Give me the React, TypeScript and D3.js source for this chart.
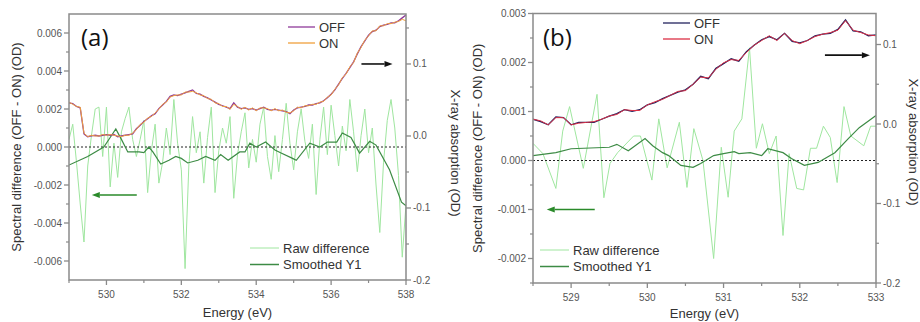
import React from 'react';
import * as d3 from 'd3';

// ---- panel (a) data ----
const energyStartA = 529.0;
const energyStepA = 0.1;
const offA = [0.046, 0.045, 0.041, 0.039, 0.003, -0.001, 0.0, 0.001, 0.0, 0.001,
  0.002, 0.001, 0.002, -0.001, 0.0, 0.001, 0.002, 0.003, 0.01, 0.015,
  0.02, 0.024, 0.028, 0.031, 0.038, 0.043, 0.048, 0.055, 0.057, 0.056,
  0.058, 0.06, 0.062, 0.064, 0.059, 0.058, 0.055, 0.053, 0.05, 0.047,
  0.044, 0.042, 0.04, 0.038, 0.046, 0.04, 0.038, 0.039, 0.037, 0.038,
  0.036, 0.038, 0.04, 0.037, 0.036, 0.037, 0.036, 0.035, 0.034, 0.031,
  0.036, 0.039, 0.04, 0.041, 0.043, 0.043, 0.045, 0.046, 0.049, 0.053,
  0.058, 0.064, 0.072, 0.08, 0.087, 0.095, 0.103, 0.114, 0.124, 0.132,
  0.14, 0.145, 0.147, 0.152, 0.154, 0.155, 0.157, 0.157, 0.16, 0.164, 0.168];
const onA = [0.047, 0.044, 0.041, 0.040, 0.004, -0.001, 0.001, 0.0, 0.0, 0.002,
  0.001, 0.002, 0.001, 0.0, -0.001, 0.001, 0.001, 0.004, 0.009, 0.016,
  0.019, 0.025, 0.027, 0.032, 0.037, 0.044, 0.047, 0.054, 0.056, 0.057,
  0.057, 0.061, 0.061, 0.062, 0.06, 0.057, 0.056, 0.052, 0.051, 0.046,
  0.045, 0.041, 0.041, 0.037, 0.044, 0.041, 0.037, 0.04, 0.036, 0.039,
  0.035, 0.039, 0.039, 0.038, 0.035, 0.038, 0.035, 0.036, 0.033, 0.032,
  0.035, 0.04, 0.039, 0.042, 0.042, 0.044, 0.044, 0.047, 0.048, 0.054,
  0.057, 0.065, 0.071, 0.081, 0.086, 0.096, 0.102, 0.115, 0.123, 0.133,
  0.139, 0.146, 0.146, 0.153, 0.153, 0.156, 0.156, 0.158, 0.159, 0.162, 0.160];
const rawA = [0.0004, 0.0012, -0.0008, -0.003, -0.005, -0.001, 0.0006, 0.002, 0.0021, -0.0005,
  0.0021, -0.0021, 0.0002, -0.0016, 0.0008, 0.0015, 0.0021, 0.0004, -0.0005, 0.0004,
  0.0014, -0.0024, -0.0002, 0.0012, -0.0019, -0.0008, 0.001, -0.0004, 0.0025, 0.0002,
  -0.0012, -0.0064, -0.001, 0.0016, -0.0003, 0.0008, -0.0019, 0.0005, 0.0021, -0.0024,
  -0.0002, 0.001, 0.0002, 0.0016, -0.0027, -0.0004, 0.0008, 0.0018, -0.0011, 0.0004,
  -0.0008, 0.0012, 0.0021, -0.0005, -0.0017, 0.0006, -0.0013, 0.0004, 0.0023, 0.0002,
  -0.0012, 0.0008, 0.002, 0.0003, -0.0006, 0.0012, -0.0025, 0.0004, 0.0021, -0.0004,
  0.0022, 0.0006, -0.001, 0.0011, -0.0002, 0.0025, 0.0008, -0.0013, 0.0006, 0.002,
  -0.0003, 0.001, -0.002, -0.0045, -0.0008, 0.0014, 0.0025, 0.001, -0.0015, -0.0058, -0.003];
const smoothEnergyA = [529.0, 529.5, 529.93, 530.1, 530.25, 530.4, 530.57, 530.87, 531.0, 531.13,
  531.24, 531.45, 531.67, 531.85, 532.0, 532.17, 532.44, 532.65, 532.9, 533.05,
  533.25, 533.56, 533.7, 533.83, 534.0, 534.25, 534.5, 534.65, 534.97, 535.07,
  535.43, 535.7, 535.9, 536.15, 536.3, 536.53, 536.76, 537.03, 537.2, 537.56, 537.88, 538.0];
const smoothA = [-0.00095, -0.0005, 0.0, 0.0005, 0.00095, 0.0004, -0.00026, -0.00026, -0.0003, 0.0,
  -0.00026, -0.0009, -0.0007, -0.0005, -0.0006, -0.00084, -0.0007, -0.0005, -0.0007, -0.0004,
  -0.0007, -0.00026, -0.00026, 0.0002, 0.0, 0.00026, -0.00016, -0.0003, -0.0006, -0.0007,
  0.0002, 0.0, 0.00026, 0.00026, 0.00074, 0.0005, -0.00032, 0.0003, 0.0001, -0.0012, -0.0029, -0.0031];

// ---- panel (b) data ----
const energyStartB = 528.5;
const energyStepB = 0.1;
const offB = [0.006, 0.003, -0.001, 0.009, 0.008, -0.001, 0.002, 0.002, 0.002, 0.006,
  0.01, 0.013, 0.018, 0.016, 0.018, 0.024, 0.027, 0.032, 0.036, 0.04,
  0.043, 0.05, 0.06, 0.057, 0.07, 0.076, 0.082, 0.079, 0.091, 0.099,
  0.106, 0.11, 0.106, 0.114, 0.104, 0.102, 0.105, 0.111, 0.113, 0.114,
  0.119, 0.131, 0.117, 0.116, 0.111, 0.112];
const onB = [0.006, 0.004, -0.001, 0.008, 0.008, -0.001, 0.001, 0.002, 0.003, 0.006,
  0.01, 0.012, 0.018, 0.017, 0.017, 0.024, 0.028, 0.031, 0.036, 0.041,
  0.042, 0.05, 0.059, 0.058, 0.069, 0.077, 0.081, 0.08, 0.09, 0.099,
  0.105, 0.111, 0.105, 0.114, 0.105, 0.101, 0.105, 0.11, 0.113, 0.115,
  0.118, 0.13, 0.118, 0.115, 0.112, 0.111];
const rawEnergyB = [528.5, 528.63, 528.8, 528.89, 528.98, 529.16, 529.34, 529.43, 529.51, 529.61,
  529.82, 529.91, 530.06, 530.15, 530.26, 530.42, 530.52, 530.61, 530.73, 530.87,
  530.97, 531.06, 531.14, 531.24, 531.34, 531.43, 531.51, 531.6, 531.69, 531.78,
  531.86, 531.96, 532.05, 532.14, 532.22, 532.31, 532.4, 532.49, 532.58, 532.67,
  532.84, 532.93, 533.0];
const rawB = [0.00035, 0.00014, -0.00057, 0.0006, 0.0011, -0.00016, 0.00135, -0.00076, -0.00006, 0.00016,
  0.0005, 0.0005, -0.0004, 0.00085, -0.00015, 0.00078, -0.00055, 0.00065, 0.0, -0.002,
  0.00027, -0.00075, 0.0006, 0.00085, 0.0023, 0.00025, 0.00075, 0.00014, 0.0005, -0.00153,
  0.00014, -0.00057, -0.0006, 0.00025, 0.00025, 0.0007, 0.00047, -0.00045, 0.0011, 0.0005,
  0.0003, 0.0007, 0.0007];
const smoothEnergyB = [528.5, 528.8, 529.0, 529.5, 529.6, 529.75, 529.97, 530.07, 530.2, 530.28,
  530.44, 530.6, 530.7, 530.87, 531.0, 531.14, 531.2, 531.35, 531.5, 531.58,
  531.78, 531.89, 532.06, 532.24, 532.46, 532.64, 532.78, 533.0];
const smoothB = [0.0001, 0.00016, 0.00024, 0.00027, 0.00033, 0.0002, 0.00045, 0.0003, 0.00016, 0.0001,
  -0.0001, -0.00014, -0.00006, 0.0001, 0.00014, 0.00018, 0.00014, 0.00016, 0.0001, 0.00024,
  0.00016, 0.00004, -0.0001, -0.00004, 0.00016, 0.00045, 0.00067, 0.00092];

// ---- ticks ----
const xTicksA = [530, 532, 534, 536, 538];
const xMinorA = [529, 531, 533, 535, 537];
const leftTicksA = [-0.006, -0.004, -0.002, 0, 0.002, 0.004, 0.006];
const leftMinorA = [-0.005, -0.003, -0.001, 0.001, 0.003, 0.005];
const rightTicksA = [-0.2, -0.1, 0, 0.1];
const rightMinorA = [-0.15, -0.05, 0.05, 0.15];

const xTicksB = [529, 530, 531, 532, 533];
const xMinorB = [528.5, 529.5, 530.5, 531.5, 532.5];
const leftTicksB = [-0.002, -0.001, 0, 0.001, 0.002, 0.003];
const leftMinorB = [-0.0025, -0.0015, -0.0005, 0.0005, 0.0015, 0.0025];
const rightTicksB = [-0.2, -0.1, 0, 0.1];
const rightMinorB = [-0.15, -0.05, 0.05];

const FONT = 'Liberation Sans, Arial, sans-serif';
const AXIS = '#8a8a8a';
const TICKTXT = '#555';
const TXT = '#333';
const RAW = '#9fe69f';
const SMOOTH = '#3d8b45';
const GREEN_ARROW = '#2a8a2a';

const fmt = (p) => (v) => d3.format(p)(v).replace('\u2212', '-');

function Arrow({ x1, x2, y, color }) {
  const dir = x2 > x1 ? 1 : -1;
  const h = 8;
  return (
    <g>
      <line x1={x1} x2={x2 - dir * h} y1={y} y2={y} stroke={color} strokeWidth={1.6} />
      <path d={`M${x2},${y} L${x2 - dir * h},${y - 3} L${x2 - dir * h},${y + 3} Z`} fill={color} />
    </g>
  );
}

function Panel(p) {
  const x = d3.scaleLinear().domain(p.xDomain).range([p.left, p.right]);
  const yL = d3.scaleLinear().domain(p.leftDomain).range([p.bottom, p.top]);
  const yR = d3.scaleLinear().domain(p.rightDomain).range([p.bottom, p.top]);

  const absLine = d3.line().x((d) => x(d[0])).y((d) => yR(d[1]));
  const diffLine = d3.line().x((d) => x(d[0])).y((d) => yL(d[1]));

  const offPts = p.off.map((v, i) => [p.eStart + i * p.eStep, v]);
  const onPts = p.on.map((v, i) => [p.eStart + i * p.eStep, v]);
  const rawPts = p.raw.map((v, i) => [p.rawE[i], v]);
  const smPts = p.smooth.map((v, i) => [p.smoothE[i], v]);

  const midY = (p.top + p.bottom) / 2;
  const lx = p.legendLow;
  const hx = p.legendHigh;

  return (
    <g fontFamily={FONT}>
      <defs>
        <clipPath id={`clip-${p.id}`}>
          <rect x={p.left} y={p.top} width={p.right - p.left} height={p.bottom - p.top} />
        </clipPath>
      </defs>

      <g clipPath={`url(#clip-${p.id})`}>
        <path d={diffLine(rawPts)} fill="none" stroke={RAW} strokeWidth={1} />
        <line x1={p.left} x2={p.right} y1={yL(0)} y2={yL(0)} stroke="#222" strokeWidth={1} strokeDasharray="2,2" />
        <path d={diffLine(smPts)} fill="none" stroke={SMOOTH} strokeWidth={1.2} />
        <path d={absLine(offPts)} fill="none" stroke={p.offColor} strokeWidth={1.3} />
        <path d={absLine(onPts)} fill="none" stroke={p.onColor} strokeWidth={1} />
      </g>

      {/* frame */}
      <rect x={p.left} y={p.top} width={p.right - p.left} height={p.bottom - p.top} fill="none" stroke={AXIS} strokeWidth={1.5} />

      {/* bottom axis */}
      {p.xTicks.map((t) => (
        <g key={`xt${t}`}>
          <line x1={x(t)} x2={x(t)} y1={p.bottom} y2={p.bottom + 5} stroke={AXIS} strokeWidth={1.3} />
          <text x={x(t)} y={p.bottom + 18} textAnchor="middle" fontSize={10} fill={TICKTXT}>{t}</text>
        </g>
      ))}
      {p.xMinor.map((t) => (
        <line key={`xm${t}`} x1={x(t)} x2={x(t)} y1={p.bottom} y2={p.bottom + 3} stroke={AXIS} strokeWidth={1.2} />
      ))}

      {/* left axis */}
      {p.leftTicks.map((t) => (
        <g key={`lt${t}`}>
          <line x1={p.left - 5} x2={p.left} y1={yL(t)} y2={yL(t)} stroke={AXIS} strokeWidth={1.3} />
          <text x={p.left - 7} y={yL(t) + 3.5} textAnchor="end" fontSize={10} fill={TICKTXT}>{fmt('.3f')(t)}</text>
        </g>
      ))}
      {p.leftMinor.map((t) => (
        <line key={`lm${t}`} x1={p.left - 3} x2={p.left} y1={yL(t)} y2={yL(t)} stroke={AXIS} strokeWidth={1.2} />
      ))}

      {/* right axis */}
      {p.rightTicks.map((t) => (
        <g key={`rt${t}`}>
          <line x1={p.right} x2={p.right + 5} y1={yR(t)} y2={yR(t)} stroke={AXIS} strokeWidth={1.3} />
          <text x={p.right + 7} y={yR(t) + 3.5} textAnchor="start" fontSize={10} fill={TICKTXT}>{fmt('.1f')(t)}</text>
        </g>
      ))}
      {p.rightMinor.map((t) => (
        <line key={`rm${t}`} x1={p.right} x2={p.right + 3} y1={yR(t)} y2={yR(t)} stroke={AXIS} strokeWidth={1.2} />
      ))}

      {/* axis titles */}
      <text x={(p.left + p.right) / 2} y={p.xTitleY} textAnchor="middle" fontSize={13} fill={TXT}>Energy (eV)</text>
      <text transform={`translate(${p.leftTitleX},${midY}) rotate(-90)`} textAnchor="middle" fontSize={13} fill={TXT}>
        Spectral difference (OFF - ON) (OD)
      </text>
      <text transform={`translate(${p.rightTitleX},${p.rightTitleY}) rotate(90)`} textAnchor="middle" fontSize={13} fill={TXT}>
        X-ray absorption (OD)
      </text>

      {/* panel tag */}
      <text x={p.tagX} y={46} fontSize={24} fill="#111" fontFamily="Open Sans, Liberation Sans, sans-serif">{p.tag}</text>

      {/* top legend */}
      <line x1={hx} x2={hx + 27} y1={p.legendHighY} y2={p.legendHighY} stroke={p.offColor} strokeWidth={1.3} />
      <text x={hx + 31} y={p.legendHighY + 4.5} fontSize={13} fill={TXT}>OFF</text>
      <line x1={hx} x2={hx + 27} y1={p.legendHighY + 16} y2={p.legendHighY + 16} stroke={p.onColor} strokeWidth={1.3} />
      <text x={hx + 31} y={p.legendHighY + 20.5} fontSize={13} fill={TXT}>ON</text>

      {/* bottom legend */}
      <line x1={lx} x2={lx + 29} y1={p.legendLowY} y2={p.legendLowY} stroke={RAW} strokeWidth={1} />
      <text x={lx + 33} y={p.legendLowY + 4.5} fontSize={13} fill={TXT}>Raw difference</text>
      <line x1={lx} x2={lx + 29} y1={p.legendLowY + 16.5} y2={p.legendLowY + 16.5} stroke={SMOOTH} strokeWidth={1.5} />
      <text x={lx + 33} y={p.legendLowY + 21} fontSize={13} fill={TXT}>Smoothed Y1</text>

      {/* arrows */}
      <Arrow x1={x(p.blackArrow[0])} x2={x(p.blackArrow[1])} y={yR(p.blackArrow[2])} color="#111" />
      <Arrow x1={x(p.greenArrow[0])} x2={x(p.greenArrow[1])} y={yL(p.greenArrow[2])} color={GREEN_ARROW} />
    </g>
  );
}

export default function App() {
  return (
    <svg width={920} height={322} style={{ position: 'absolute', left: 0, top: 0, background: '#fff' }}>
      <rect width={920} height={322} fill="#fff" />
      <Panel
        id="a" tag="(a)" tagX={81}
        left={69} right={406} top={14} bottom={280}
        xDomain={[529, 538]} leftDomain={[-0.007, 0.007]} rightDomain={[-0.2, 0.1694]}
        eStart={energyStartA} eStep={energyStepA}
        off={offA} on={onA} raw={rawA}
        rawE={rawA.map((_, i) => energyStartA + i * energyStepA)}
        smooth={smoothA} smoothE={smoothEnergyA}
        offColor="#8e3a9a" onColor="#f0a03c"
        xTicks={xTicksA} xMinor={xMinorA}
        leftTicks={leftTicksA} leftMinor={leftMinorA}
        rightTicks={rightTicksA} rightMinor={rightMinorA}
        xTitleY={317} leftTitleX={21} rightTitleX={451} rightTitleY={153}
        legendHigh={288} legendHighY={27}
        legendLow={250} legendLowY={248}
        blackArrow={[536.81, 537.64, 0.1]} greenArrow={[530.81, 529.61, -0.00253]}
      />
      <Panel
        id="b" tag="(b)" tagX={543}
        left={533} right={876} top={13.5} bottom={283}
        xDomain={[528.5, 533]} leftDomain={[-0.0025, 0.003]} rightDomain={[-0.2, 0.139]}
        eStart={energyStartB} eStep={energyStepB}
        off={offB} on={onB} raw={rawB} rawE={rawEnergyB}
        smooth={smoothB} smoothE={smoothEnergyB}
        offColor="#23235e" onColor="#dc2f45"
        xTicks={xTicksB} xMinor={xMinorB}
        leftTicks={leftTicksB} leftMinor={leftMinorB}
        rightTicks={rightTicksB} rightMinor={rightMinorB}
        xTitleY={318} leftTitleX={482} rightTitleX={909} rightTitleY={142}
        legendHigh={663} legendHighY={23}
        legendLow={540} legendLowY={250}
        blackArrow={[532.33, 532.92, 0.0866]} greenArrow={[529.31, 528.68, -0.001]}
      />
    </svg>
  );
}
